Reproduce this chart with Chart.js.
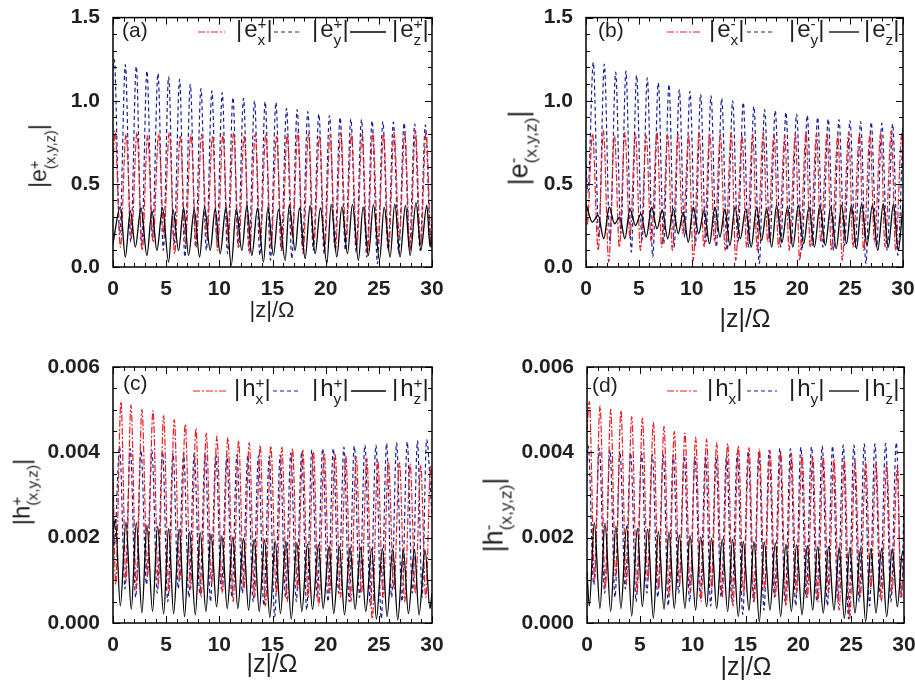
<!DOCTYPE html>
<html><head><meta charset="utf-8">
<title>Field components</title>
<script src="https://cdn.jsdelivr.net/npm/chart.js@4.4.1/dist/chart.umd.min.js"></script>
<style>
html,body{margin:0;padding:0;background:#fff;}
body{width:915px;height:685px;position:relative;overflow:hidden;font-family:Arial,"Liberation Sans",Helvetica,sans-serif;color:#231f20;}
.cv{position:absolute;}
.t{position:absolute;white-space:nowrap;line-height:24px;font-size:24px;}
.pl{position:absolute;white-space:nowrap;line-height:21px;font-size:21px;}
.ss{display:inline-flex;flex-direction:column;font-size:0.64em;line-height:1.07;vertical-align:0.5em;}
.yt{position:absolute;white-space:nowrap;transform:translate(-50%,-50%) rotate(-90deg);line-height:1;}
.xt{position:absolute;white-space:nowrap;transform:translate(-50%,-50%);line-height:1;}
</style></head><body>
<canvas id="cA" class="cv" width="457" height="342" style="left:0;top:0"></canvas>
<canvas id="cB" class="cv" width="458" height="342" style="left:457px;top:0"></canvas>
<canvas id="cC" class="cv" width="457" height="343" style="left:0;top:342px"></canvas>
<canvas id="cD" class="cv" width="458" height="343" style="left:457px;top:342px"></canvas>

<!-- panel labels and legend texts -->
<div class="pl" style="left:122px;top:19px">(a)</div>
<div class="t" style="left:236px;top:16px">|&#8202;e<span class="ss"><span>+</span><span>x</span></span>|</div>
<div class="t" style="left:312px;top:16px">|&#8202;e<span class="ss"><span>+</span><span>y</span></span>|</div>
<div class="t" style="left:392px;top:16px">|&#8202;e<span class="ss"><span>+</span><span>z</span></span>|</div>

<div class="pl" style="left:598px;top:19px">(b)</div>
<div class="t" style="left:709px;top:16px">|&#8202;e<span class="ss"><span>-</span><span>x</span></span>|</div>
<div class="t" style="left:789px;top:16px">|&#8202;e<span class="ss"><span>-</span><span>y</span></span>|</div>
<div class="t" style="left:864px;top:16px">|&#8202;e<span class="ss"><span>-</span><span>z</span></span>|</div>

<div class="pl" style="left:123px;top:372px">(c)</div>
<div class="t" style="left:234px;top:375px">|&#8202;h<span class="ss"><span>+</span><span>x</span></span>|</div>
<div class="t" style="left:312px;top:375px">|&#8202;h<span class="ss"><span>+</span><span>y</span></span>|</div>
<div class="t" style="left:392px;top:375px">|&#8202;h<span class="ss"><span>+</span><span>z</span></span>|</div>

<div class="pl" style="left:592px;top:374px">(d)</div>
<div class="t" style="left:707px;top:375px">|&#8202;h<span class="ss"><span>-</span><span>x</span></span>|</div>
<div class="t" style="left:789px;top:375px">|&#8202;h<span class="ss"><span>-</span><span>y</span></span>|</div>
<div class="t" style="left:864px;top:375px">|&#8202;h<span class="ss"><span>-</span><span>z</span></span>|</div>

<!-- axis titles -->
<div class="yt" style="left:43px;top:156px;font-size:23px">|e<span class="ss"><span>+</span><span>(x,y,z)</span></span>|</div>
<div class="yt" style="left:522px;top:148px;font-size:27px">|e<span class="ss"><span>-</span><span>(x,y,z)</span></span>|</div>
<div class="yt" style="left:25px;top:492px;font-size:24px">|h<span class="ss"><span>+</span><span>(x,y,z)</span></span>|</div>
<div class="yt" style="left:497px;top:515px;font-size:27px">|h<span class="ss"><span>-</span><span>(x,y,z)</span></span>|</div>
<div class="xt" style="left:272px;top:310px;font-size:22px">|z|/Ω</div>
<div class="xt" style="left:745px;top:318px;font-size:25px">|z|/Ω</div>
<div class="xt" style="left:272px;top:663px;font-size:25px">|z|/Ω</div>
<div class="xt" style="left:746px;top:666px;font-size:25px">|z|/Ω</div>

<script>
// ---------- tick labels ----------
const xTickVals = [0, 5, 10, 15, 20, 25, 30];
const eTickVals = [0, 0.5, 1.0, 1.5];
const hTickVals = [0, 0.002, 0.004, 0.006];

// ---------- panel (a): |e+| ----------
const a_ey_pkX = [0.12,1.16,2.19,3.19,4.23,5.23,6.26,7.27,8.27,9.3,10.27,11.28,12.27,13.31,14.31,15.32,16.32,17.32,18.32,19.36,20.36,21.36,22.37,23.37,24.37,25.38,26.37,27.38,28.38,29.38];
const a_ey_pkY = [1.247,1.217,1.207,1.18,1.165,1.144,1.128,1.099,1.073,1.059,1.049,1.02,1.014,1.0,0.994,0.99,0.954,0.947,0.935,0.92,0.911,0.9,0.89,0.887,0.88,0.875,0.871,0.867,0.86,0.855];
const a_ey_loX = [0,0.64,1.67,2.69,3.71,4.73,5.74,6.76,7.77,8.78,9.78,10.77,11.77,12.79,13.81,14.81,15.82,16.82,17.82,18.84,19.86,20.86,21.86,22.87,23.87,24.87,25.87,26.87,27.88,28.88,29.88,30];
const a_ey_loY = [1.2,0.2,0.15,0.12,0.18,0.1,0.14,0.06,0.12,0.1,0.15,0.08,0.12,0.1,0.07,0.04,0.1,0.05,0.12,0.1,0.08,0.12,0.1,0.09,0.06,0.02,0.1,0.08,0.12,0.1,0.15,0.3];

const a_ex_pkX = [0.18,1.22,2.25,3.25,4.29,5.29,6.32,7.33,8.33,9.36,10.33,11.34,12.33,13.37,14.37,15.38,16.38,17.38,18.38,19.42,20.42,21.42,22.43,23.43,24.43,25.44,26.43,27.44,28.44,29.44];
const a_ex_pkY = [0.82,0.80,0.81,0.79,0.80,0.81,0.79,0.80,0.80,0.79,0.80,0.81,0.79,0.80,0.80,0.79,0.80,0.81,0.80,0.79,0.80,0.81,0.80,0.80,0.81,0.80,0.81,0.80,0.82,0.81];
const a_ex_loX = [0,0.7,1.74,2.75,3.77,4.79,5.8,6.82,7.83,8.84,9.84,10.83,11.83,12.85,13.87,14.87,15.88,16.88,17.88,18.9,19.92,20.92,21.92,22.93,23.93,24.93,25.93,26.93,27.94,28.94,29.94,30];
const a_ex_loY = [0.6,0.12,0.18,0.1,0.15,0.2,0.08,0.14,0.12,0.18,0.1,0.15,0.12,0.08,0.16,0.12,0.1,0.18,0.08,0.15,0.12,0.1,0.16,0.12,0.08,0.15,0.12,0.18,0.1,0.14,0.12,0.2];

const a_ez_pkX = [0.69,1.63,2.63,3.66,4.66,5.64,6.64,7.64,8.61,9.61,10.62,11.59,12.59,13.59,14.57,15.56,16.57,17.54,18.54,19.51,20.52,21.52,22.52,23.52,24.49,25.5,26.5,27.5,28.5,29.51];
const a_ez_pkY = [0.362,0.338,0.355,0.338,0.355,0.345,0.355,0.345,0.36,0.35,0.36,0.35,0.37,0.355,0.36,0.345,0.37,0.355,0.37,0.355,0.377,0.362,0.377,0.362,0.375,0.36,0.38,0.37,0.387,0.37];
const a_ez_loX = [0,1.16,2.1,3.19,4.13,5.23,6.17,7.11,8.14,9.14,10.08,11.12,12.12,13.06,14.15,15.09,16.19,17.13,18.07,19.01,20.11,21.05,22.05,23.08,24.02,25.06,26.06,27.0,27.94,28.95,29.82,30];
const a_ez_loY = [0.14,0.06,0.12,0.07,0.1,0.03,0.1,0.07,0.06,0.1,0.08,0.01,0.1,0.07,0.03,0.07,0.04,0.1,0.05,0.08,0.02,0.06,0.08,0.04,0.07,0.04,0.06,0.06,0.07,0.1,0.12,0.2];

// ---------- panel (b): |e-| ----------
const b_ey_pkX = [0.69,1.73,2.81,3.78,4.79,5.8,6.84,7.85,8.83,9.84,10.85,11.83,12.84,13.88,14.88,15.89,16.9,17.91,18.92,19.93,20.94,21.92,22.92,23.94,24.98,25.99,26.99,28.0,29.02,30];
const b_ey_pkY = [1.231,1.221,1.172,1.178,1.152,1.138,1.108,1.098,1.065,1.057,1.039,1.03,1.014,1.0,0.99,0.966,0.947,0.941,0.931,0.92,0.911,0.901,0.891,0.887,0.881,0.875,0.871,0.865,0.86,0.855];
const b_ey_loX = [0,0.18,1.21,2.27,3.3,4.29,5.3,6.32,7.35,8.34,9.34,10.35,11.34,12.34,13.36,14.38,15.39,16.4,17.41,18.42,19.43,20.44,21.43,22.42,23.43,24.46,25.49,26.49,27.5,28.51,29.51];
const b_ey_loY = [0.62,0.45,0.18,0.15,0.2,0.09,0.16,0.06,0.14,0.12,0.18,0.13,0.15,0.12,0.1,0.14,0.12,0.02,0.15,0.12,0.14,0.1,0.13,0.12,0.1,0.13,0.12,0.02,0.12,0.1,0.07];

const b_ex_pkX = [0.62,1.65,2.7,3.68,4.68,5.7,6.72,7.74,8.72,9.72,10.72,11.72,12.72,13.75,14.77,15.78,16.78,17.8,18.82,19.82,20.83,21.82,22.82,23.84,24.86,25.88,26.88,27.9,28.9,29.9];
const b_ex_pkY = [0.8,0.82,0.79,0.81,0.8,0.79,0.81,0.8,0.8,0.79,0.81,0.8,0.8,0.81,0.79,0.8,0.81,0.8,0.79,0.8,0.81,0.8,0.8,0.79,0.81,0.8,0.8,0.81,0.82,0.81];
const b_ex_loX = [0,0.1,1.15,2.15,3.15,4.15,5.15,6.17,7.17,8.17,9.17,10.15,11.15,12.17,13.17,14.17,15.2,16.2,17.2,18.22,19.22,20.22,21.22,22.22,23.22,24.25,25.27,26.27,27.3,28.3,29.3,30];
const b_ex_loY = [0.4,0.25,0.1,0.03,0.12,0.18,0.1,0.15,0.12,0.1,0.2,0.04,0.12,0.15,0.1,0.04,0.12,0.1,0.15,0.12,0.1,0.04,0.12,0.15,0.1,0.04,0.12,0.1,0.15,0.12,0.1,0.6];

const b_ez_pkX = [0,1.15,2.2,3.2,4.16,5.2,6.21,7.22,8.26,9.2,10.15,11.18,12.2,13.15,14.1,15.12,16.15,17.1,18.04,19.07,20.09,21.1,22.14,23.16,24.19,25.12,26.08,27.1,28.13,29.1,30];
const b_ez_pkY = [0.38,0.31,0.36,0.30,0.35,0.32,0.36,0.34,0.35,0.33,0.36,0.34,0.36,0.35,0.36,0.35,0.36,0.35,0.37,0.36,0.37,0.36,0.37,0.36,0.37,0.37,0.38,0.37,0.38,0.38,0.38];
const b_ez_loX = [0.6,1.68,2.7,3.68,4.68,5.7,6.72,7.74,8.73,9.68,10.66,11.69,12.68,13.62,14.61,15.63,16.62,17.57,18.55,19.58,20.6,21.62,22.65,23.68,24.65,25.6,26.59,27.61,28.61,29.55];
const b_ez_loY = [0.27,0.17,0.26,0.17,0.25,0.18,0.23,0.17,0.2,0.15,0.2,0.14,0.18,0.13,0.17,0.12,0.16,0.12,0.15,0.12,0.14,0.12,0.13,0.11,0.14,0.11,0.13,0.1,0.12,0.1];

// ---------- panel (c): |h+| ----------
const c_hx_pkX = [0.75,1.69,2.72,3.76,4.76,5.76,6.8,7.8,8.77,9.77,10.8,11.81,12.81,13.84,14.84,15.88,16.88,17.85,18.85,19.86,20.89,21.89,22.87,23.87,24.9,25.9,26.94,27.94,28.94,29.88];
const c_hx_pkY = [0.00519,0.00511,0.00501,0.00498,0.00486,0.00477,0.00466,0.00456,0.00445,0.00438,0.00435,0.00427,0.00423,0.00417,0.00415,0.00412,0.00409,0.00405,0.00402,0.00399,0.00395,0.00391,0.0039,0.00386,0.00382,0.00378,0.00376,0.00373,0.0037,0.00368];
const c_hx_loX = [0,0.25,1.22,2.2,3.24,4.26,5.26,6.28,7.3,8.28,9.27,10.28,11.3,12.31,13.32,14.34,15.36,16.38,17.36,18.35,19.35,20.38,21.39,22.38,23.37,24.38,25.4,26.42,27.44,28.44,29.41,30];
const c_hx_loY = [0.0036,0.0009,0.001,0.0008,0.0011,0.0009,0.0007,0.001,0.0008,0.0006,0.0009,0.0007,0.0005,0.0008,0.0006,0.0004,0.0007,0.0005,0.0008,0.0006,0.0004,0.0007,0.0006,0.0005,0.0007,0.0001,0.0006,0.0008,0.0005,0.0007,0.0006,0.003];

const c_hy_pkX = [0.62,1.63,2.63,3.66,4.66,5.64,6.64,7.64,8.67,9.67,10.71,11.65,12.68,13.68,14.69,15.72,16.72,17.75,18.69,19.72,20.72,21.72,22.69,23.69,24.73,25.73,26.67,27.67,28.64,29.49];
const c_hy_pkY = [0.00413,0.00409,0.00405,0.00404,0.00402,0.00399,0.00398,0.00398,0.00398,0.00396,0.00394,0.00394,0.00392,0.00392,0.0039,0.00394,0.00398,0.00402,0.00405,0.00409,0.00409,0.00412,0.00415,0.00417,0.00417,0.00421,0.00422,0.00425,0.00427,0.0043];
const c_hy_loX = [0,0.12,1.13,2.13,3.15,4.16,5.15,6.14,7.14,8.16,9.17,10.19,11.18,12.17,13.18,14.19,15.21,16.22,17.24,18.22,19.21,20.22,21.22,22.21,23.19,24.21,25.23,26.2,27.17,28.16,29.07,30];
const c_hy_loY = [0.0024,0.0018,0.0008,0.0006,0.0009,0.0007,0.0005,0.0008,0.0006,0.0007,0.0005,0.0008,0.0006,0.0007,0.0005,0.0004,0.00015,0.0006,0.0005,0.0003,0.0006,0.0005,0.0007,0.0005,0.0006,0.0004,0.0001,0.0006,0.0005,0.0007,0.0006,0.0025];

const c_hz_pkX = [0.22,1.22,2.19,3.19,4.2,5.23,6.23,7.2,8.2,9.21,10.24,11.27,12.27,13.28,14.25,15.25,16.26,17.29,18.29,19.33,20.33,21.3,22.3,23.3,24.34,25.34,26.31,27.31,28.35,29.35];
const c_hz_pkY = [0.00243,0.00237,0.00235,0.0023,0.00227,0.00222,0.0022,0.00214,0.00212,0.00209,0.00204,0.00201,0.00198,0.00196,0.00195,0.00192,0.00191,0.00188,0.00185,0.00183,0.0018,0.00179,0.00177,0.00177,0.00175,0.00175,0.00173,0.00171,0.00173,0.00171];
const c_hz_loX = [0,0.69,1.72,2.72,3.72,4.76,5.7,6.73,7.74,8.74,9.74,10.74,11.74,12.75,13.75,14.75,15.75,16.76,17.76,18.76,19.76,20.76,21.77,22.77,23.77,24.77,25.77,26.78,27.78,28.78,29.81,30];
const c_hz_loY = [0.0021,0.0004,0.00032,0.00024,0.00027,0.00021,0.00022,0.00015,0.00019,0.00027,0.00038,0.00034,0.00034,0.0003,0.00027,0.00013,0.00022,0.00009,0.00027,0.00032,0.00034,0.00022,0.00019,0.00032,0.00027,0.00009,0.00015,0.00007,0.00022,0.00019,0.00034,0.0007];

// ---------- panel (d): |h-| ----------
const d_hx_pkX = [0.22,1.23,2.24,3.21,4.23,5.24,6.28,7.29,8.26,9.27,10.28,11.32,12.27,13.31,14.32,15.33,16.31,17.32,18.33,19.34,20.35,21.36,22.36,23.37,24.35,25.36,26.37,27.35,28.36,29.37];
const d_hx_pkY = [0.00519,0.00509,0.00501,0.00498,0.00484,0.0048,0.0047,0.00461,0.00449,0.00445,0.00435,0.00431,0.00423,0.00421,0.00415,0.00411,0.00408,0.00404,0.004,0.00398,0.00394,0.0039,0.00389,0.00384,0.00382,0.00378,0.00376,0.00373,0.0037,0.00366];
const d_hx_loX = [0,0.72,1.73,2.72,3.72,4.74,5.76,6.78,7.78,8.76,9.78,10.8,11.8,12.79,13.82,14.82,15.82,16.82,17.82,18.84,19.84,20.86,21.86,22.86,23.86,24.86,25.86,26.86,27.86,28.86,29.7,30];
const d_hx_loY = [0.0045,0.001,0.0008,0.0011,0.0009,0.0007,0.001,0.0008,0.0006,0.0009,0.0007,0.0005,0.0008,0.0006,0.0004,0.0007,0.0005,0.0008,0.0006,0.0004,0.0007,0.0006,0.0005,0.0007,0.0003,0.0001,0.0006,0.0008,0.0005,0.0007,0.0006,0.0015];

const d_hy_pkX = [0.12,1.17,2.18,3.12,4.13,5.17,6.18,7.22,8.16,9.2,10.22,11.22,12.2,13.21,14.22,15.26,16.27,17.24,18.25,19.26,20.24,21.25,22.26,23.24,24.25,25.26,26.24,27.25,28.26,29.27];
const d_hy_pkY = [0.00415,0.00409,0.00405,0.00403,0.00399,0.00398,0.00396,0.00394,0.00394,0.00392,0.0039,0.00392,0.0039,0.00394,0.00398,0.00402,0.00402,0.00405,0.00409,0.00409,0.00412,0.00413,0.00415,0.00415,0.00417,0.00417,0.0042,0.0042,0.00421,0.00423];
const d_hy_loX = [0,0.64,1.67,2.65,3.62,4.65,5.67,6.7,7.69,8.68,9.71,10.72,11.71,12.7,13.71,14.74,15.76,16.75,17.74,18.75,19.75,20.74,21.75,22.75,23.74,24.75,25.75,26.74,27.75,28.76,29.77,30];
const d_hy_loY = [0.0038,0.0009,0.0007,0.0006,0.0008,0.0005,0.0007,0.0006,0.0004,0.0007,0.0005,0.0006,0.0004,0.0006,0.0005,0.0002,0.0005,0.0003,0.0006,0.0005,0.0004,0.0006,0.0005,0.0004,0.0005,0.0001,0.0005,0.0004,0.0006,0.0005,0.0006,0.003];

const d_hz_pkX = [0.69,1.7,2.74,3.75,4.76,5.74,6.75,7.76,8.74,9.75,10.76,11.79,12.8,13.78,14.79,15.8,16.78,17.82,18.83,19.84,20.85,21.82,22.86,23.87,24.88,25.89,26.87,27.88,28.89,29.87];
const d_hz_pkY = [0.00235,0.00234,0.00227,0.00227,0.00222,0.0022,0.00214,0.00213,0.00206,0.00205,0.00202,0.00199,0.00196,0.00196,0.00191,0.00191,0.0019,0.00188,0.00185,0.00183,0.00181,0.00179,0.00179,0.00177,0.00177,0.00175,0.00174,0.00174,0.00174,0.00169];
const d_hz_loX = [0,0.22,1.23,2.24,3.21,4.23,5.24,6.28,7.29,8.26,9.27,10.28,11.32,12.27,13.31,14.32,15.33,16.31,17.32,18.33,19.34,20.35,21.36,22.36,23.37,24.35,25.36,26.37,27.35,28.36,29.37,30];
const d_hz_loY = [0.0012,0.0004,0.00034,0.00027,0.00034,0.00016,0.00038,0.00011,0.00032,0.00034,0.00034,0.0003,0.00038,0.00034,0.00027,0.00015,0.0003,0.00003,0.0003,0.00015,0.00027,0.00019,0.0003,0.00023,0.0003,0.00011,0.00023,0.00003,0.00023,0.00015,0.00038,0.0016];

// ---------- helpers ----------
function pts(pkX, pkY, loX, loY) {
  const a = [];
  pkX.forEach((x, i) => a.push({x: x, y: pkY[i]}));
  loX.forEach((x, i) => a.push({x: x, y: loY[i]}));
  return a.sort((p, q) => p.x - q.x);
}
const STYLE = {
  z: {borderColor: '#000000', borderWidth: 1.3, borderDash: []},
  x: {borderColor: '#ee1c24', borderWidth: 1.2, borderDash: [7, 2, 2, 2]},
  y: {borderColor: '#1b1f9a', borderWidth: 1.2, borderDash: [4, 3]}
};
function ds(points, key) {
  return Object.assign({data: points, pointRadius: 0, fill: false,
    cubicInterpolationMode: 'monotone'}, STYLE[key]);
}
const TXT = '#231f20';
const framePlugin = {
  id: 'frame',
  afterDraw(chart, args, o) {
    const ctx = chart.ctx, ca = chart.chartArea, xs = chart.scales.x, ys = chart.scales.y;
    ctx.save();
    ctx.strokeStyle = '#000'; ctx.lineWidth = 1; ctx.setLineDash([]);
    ctx.beginPath();
    for (let i = 0; i <= 30; i++) {
      const px = Math.round(xs.getPixelForValue(i)) + 0.5, L = i % 5 === 0 ? 7 : 4;
      ctx.moveTo(px, ca.bottom); ctx.lineTo(px, ca.bottom - L);
      ctx.moveTo(px, ca.top); ctx.lineTo(px, ca.top + L);
    }
    for (let i = 0; i <= o.nY; i++) {
      const py = Math.round(ys.getPixelForValue(i * o.yMinor)) + 0.5, L = i % o.yMajorEvery === 0 ? 7 : 4;
      ctx.moveTo(ca.left, py); ctx.lineTo(ca.left + L, py);
      ctx.moveTo(ca.right, py); ctx.lineTo(ca.right - L, py);
    }
    ctx.stroke();
    ctx.lineWidth = 1.5;
    ctx.strokeRect(ca.left, ca.top, ca.right - ca.left, ca.bottom - ca.top);
    // legend samples
    o.legend.forEach(s => {
      const st = STYLE[s.k];
      ctx.strokeStyle = st.borderColor; ctx.lineWidth = st.borderWidth;
      ctx.setLineDash(st.borderDash);
      ctx.beginPath(); ctx.moveTo(s.x0, s.y); ctx.lineTo(s.x1, s.y); ctx.stroke();
    });
    ctx.restore();
  }
};

function build(id, sets, yMax, yTicks, digits, yMinor, yMajorEvery, geo, legend) {
  return new Chart(document.getElementById(id), {
    type: 'line',
    data: {datasets: sets},
    plugins: [framePlugin],
    options: {
      responsive: false, animation: false, devicePixelRatio: 1,
      layout: {padding: {top: geo.top, right: geo.right, left: 0, bottom: 0}},
      plugins: {legend: {display: false}, tooltip: {enabled: false},
        frame: {nY: Math.round(yMax / yMinor), yMinor: yMinor, yMajorEvery: yMajorEvery, legend: legend}},
      scales: {
        x: {type: 'linear', min: 0, max: 30,
          grid: {display: false}, border: {display: false},
          afterBuildTicks: s => { s.ticks = xTickVals.map(v => ({value: v})); },
          afterFit: s => { s.height = geo.xh; s.paddingLeft = 0; s.paddingRight = 0; },
          ticks: {color: TXT, font: {family: 'Arial, "Liberation Sans", sans-serif', size: 21, weight: 'bold'},
            padding: 2, maxRotation: 0, autoSkip: false, callback: v => String(v)}},
        y: {type: 'linear', min: 0, max: yMax,
          grid: {display: false}, border: {display: false},
          afterBuildTicks: s => { s.ticks = yTicks.map(v => ({value: v})); },
          afterFit: s => { s.width = geo.yw; },
          ticks: {color: TXT, font: {family: 'Arial, "Liberation Sans", sans-serif', size: 21, weight: 'bold'},
            padding: 5, autoSkip: false, callback: v => Number(v).toFixed(digits)}}
      }
    }
  });
}

build('cA', [
  ds(pts(a_ez_pkX, a_ez_pkY, a_ez_loX, a_ez_loY), 'z'),
  ds(pts(a_ex_pkX, a_ex_pkY, a_ex_loX, a_ex_loY), 'x'),
  ds(pts(a_ey_pkX, a_ey_pkY, a_ey_loX, a_ey_loY), 'y')
], 1.5, eTickVals, 1, 0.1, 5, {top: 14, right: 25, yw: 113, xh: 75},
  [{k: 'x', x0: 198, x1: 225, y: 32}, {k: 'y', x0: 274, x1: 302, y: 32}, {k: 'z', x0: 350, x1: 386, y: 32}]);

build('cB', [
  ds(pts(b_ez_pkX, b_ez_pkY, b_ez_loX, b_ez_loY), 'z'),
  ds(pts(b_ex_pkX, b_ex_pkY, b_ex_loX, b_ex_loY), 'x'),
  ds(pts(b_ey_pkX, b_ey_pkY, b_ey_loX, b_ey_loY), 'y')
], 1.5, eTickVals, 1, 0.1, 5, {top: 14, right: 12, yw: 129, xh: 75},
  [{k: 'x', x0: 210, x1: 243, y: 32}, {k: 'y', x0: 290, x1: 318, y: 32}, {k: 'z', x0: 372, x1: 402, y: 32}]);

build('cC', [
  ds(pts(c_hz_pkX, c_hz_pkY, c_hz_loX, c_hz_loY), 'z'),
  ds(pts(c_hx_pkX, c_hx_pkY, c_hx_loX, c_hx_loY), 'x'),
  ds(pts(c_hy_pkX, c_hy_pkY, c_hy_loX, c_hy_loY), 'y')
], 0.006, hTickVals, 3, 0.0005, 4, {top: 25, right: 25, yw: 113, xh: 62},
  [{k: 'x', x0: 193, x1: 226, y: 49}, {k: 'y', x0: 273, x1: 300, y: 49}, {k: 'z', x0: 351, x1: 386, y: 49}]);

build('cD', [
  ds(pts(d_hz_pkX, d_hz_pkY, d_hz_loX, d_hz_loY), 'z'),
  ds(pts(d_hx_pkX, d_hx_pkY, d_hx_loX, d_hx_loY), 'x'),
  ds(pts(d_hy_pkX, d_hy_pkY, d_hy_loX, d_hy_loY), 'y')
], 0.006, hTickVals, 3, 0.0005, 4, {top: 25, right: 11, yw: 130, xh: 62},
  [{k: 'x', x0: 210, x1: 240, y: 49}, {k: 'y', x0: 290, x1: 320, y: 49}, {k: 'z', x0: 372, x1: 402, y: 49}]);
</script>
</body></html>
